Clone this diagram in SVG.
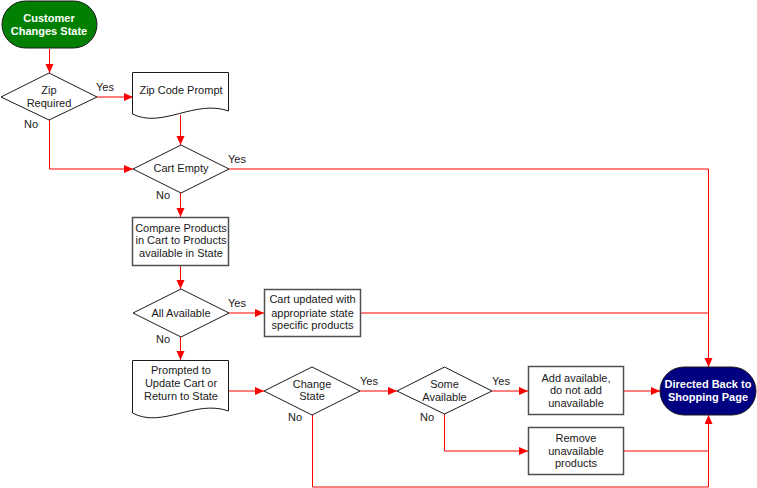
<svg xmlns="http://www.w3.org/2000/svg" width="757" height="488" viewBox="0 0 757 488">
<style>
text{font-family:"Liberation Sans",Arial,sans-serif;font-size:11px;fill:#1a1a1a;text-anchor:middle}
.w{fill:#fff;font-weight:bold}
.lbl{text-anchor:start}
.box{fill:#fff;stroke:#505050;stroke-width:1.5}
.dia{fill:#fff;stroke:#1a1a1a;stroke-width:1}
.doc{fill:#fff;stroke:#1a1a1a;stroke-width:1}
.c{fill:none;stroke:#ff0000;stroke-width:1}
.a{marker-end:url(#ah)}
</style>
<defs>
<marker id="ah" markerUnits="userSpaceOnUse" markerWidth="10" markerHeight="9" refX="9" refY="4" orient="auto">
<path d="M0,0 L9,4 L0,8 z" fill="#ff0000"/>
</marker>
</defs>
<rect width="757" height="488" fill="#fff"/>
<g id="connectors">
<path class="c a" d="M49.5,49 V73"/>
<path class="c a" d="M97,97 H133"/>
<path class="c a" d="M180.5,115 V145"/>
<path class="c a" d="M49.5,120 V169 H133"/>
<path class="c a" d="M229,169 H708.5 V367"/>
<path class="c a" d="M180.5,193 V217"/>
<path class="c a" d="M180.5,266 V289"/>
<path class="c a" d="M229,313 H264"/>
<path class="c" d="M361,313 H708"/>
<path class="c a" d="M180.5,337 V360"/>
<path class="c a" d="M229,391 H264"/>
<path class="c a" d="M360,391 H397"/>
<path class="c a" d="M312.5,415 V487 H708.5 V415"/>
<path class="c a" d="M492,391 H528"/>
<path class="c a" d="M444.5,414 V451 H528"/>
<path class="c a" d="M624,391 H660"/>
<path class="c" d="M624,451 H708"/>
</g>
<g id="start">
<rect x="2" y="1" width="95" height="47" rx="23.5" fill="#007f00" stroke="#1a1a1a"/>
<text class="w" x="49" y="22">Customer</text>
<text class="w" x="49" y="35">Changes State</text>
</g>
<g id="zipRequired">
<path class="dia" d="M1,97 L49,73 L97,97 L49,120 Z"/>
<text x="49" y="94">Zip</text>
<text x="49" y="106.5">Required</text>
<text class="lbl" x="96" y="91">Yes</text>
<text class="lbl" x="24" y="128">No</text>
</g>
<g id="zipPrompt">
<path class="doc" d="M132.5,72.5 H228.5 V111 C195,99 162,129 132.5,114 Z"/>
<text x="181" y="94">Zip Code Prompt</text>
</g>
<g id="cartEmpty">
<path class="dia" d="M133,169 L181,145 L229,169 L181,193 Z"/>
<text x="181" y="171.5">Cart Empty</text>
<text class="lbl" x="228" y="163">Yes</text>
<text class="lbl" x="156" y="199">No</text>
</g>
<g id="compare">
<rect class="box" x="132.5" y="217.5" width="96" height="48"/>
<text x="181" y="231.5">Compare Products</text>
<text x="181" y="244">in Cart to Products</text>
<text x="181" y="256.5">available in State</text>
</g>
<g id="allAvailable">
<path class="dia" d="M133,313 L181,289 L229,313 L181,337 Z"/>
<text x="181" y="316.5">All Available</text>
<text class="lbl" x="228" y="307">Yes</text>
<text class="lbl" x="156" y="343">No</text>
</g>
<g id="cartUpdated">
<rect class="box" x="264.5" y="289.5" width="96" height="47"/>
<text x="312.5" y="303">Cart updated with</text>
<text x="312.5" y="316.5">appropriate state</text>
<text x="312.5" y="329">specific products</text>
</g>
<g id="prompted">
<path class="doc" d="M132.5,360.5 H228.5 V411 C195,399 162,429 132.5,413 Z"/>
<text x="181" y="374">Prompted to</text>
<text x="181" y="387">Update Cart or</text>
<text x="181" y="399.5">Return to State</text>
</g>
<g id="changeState">
<path class="dia" d="M264,391 L312,367 L360,391 L312,415 Z"/>
<text x="312" y="387.5">Change</text>
<text x="312" y="400">State</text>
<text class="lbl" x="360" y="385">Yes</text>
<text class="lbl" x="288" y="421">No</text>
</g>
<g id="someAvailable">
<path class="dia" d="M397,391 L444.5,367 L492,391 L444.5,414 Z"/>
<text x="444.5" y="388">Some</text>
<text x="444.5" y="400.5">Available</text>
<text class="lbl" x="492" y="385">Yes</text>
<text class="lbl" x="420" y="421">No</text>
</g>
<g id="addAvailable">
<rect class="box" x="528.5" y="366.5" width="95" height="48"/>
<text x="576" y="381.5">Add available,</text>
<text x="576" y="394">do not add</text>
<text x="576" y="406.5">unavailable</text>
</g>
<g id="remove">
<rect class="box" x="528.5" y="427.5" width="95" height="47"/>
<text x="576" y="441.5">Remove</text>
<text x="576" y="455">unavailable</text>
<text x="576" y="466.5">products</text>
</g>
<g id="directedBack">
<rect x="660" y="367" width="96" height="48" rx="24" fill="#000080" stroke="#1a1a1a"/>
<text class="w" x="708" y="388">Directed Back to</text>
<text class="w" x="708" y="400.5">Shopping Page</text>
</g>
</svg>
